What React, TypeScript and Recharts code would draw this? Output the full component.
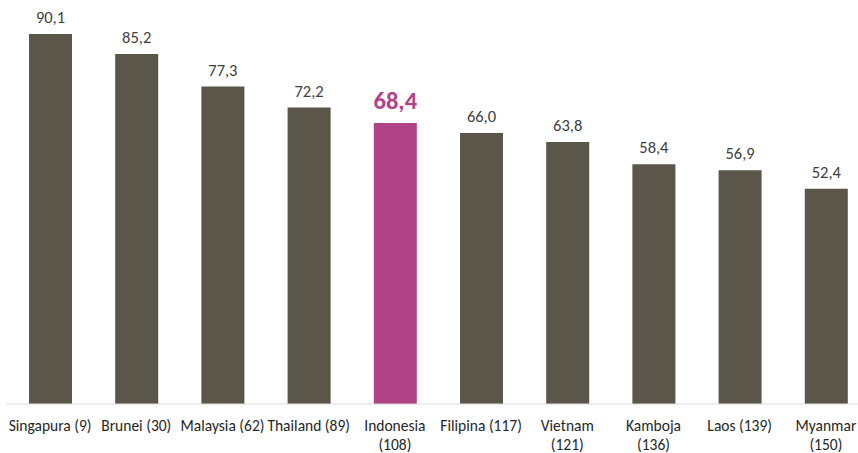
import { BarChart, Bar, XAxis, YAxis, Cell, LabelList } from 'recharts';

const CATEGORIES = [
  'Singapura (9)',
  'Brunei (30)',
  'Malaysia (62)',
  'Thailand (89)',
  'Indonesia\n(108)',
  'Filipina (117)',
  'Vietnam\n(121)',
  'Kamboja\n(136)',
  'Laos (139)',
  'Myanmar\n(150)',
];
const SCORES = [90.1, 85.2, 77.3, 72.2, 68.4, 66.0, 63.8, 58.4, 56.9, 52.4];
const HIGHLIGHT = 'Indonesia\n(108)';

const BAR = '#5a5649';
const PINK = '#b04286';
const FONT = 'Carlito, "Open Sans", Calibri, sans-serif';

const data = CATEGORIES.map((name, i) => ({ name, score: SCORES[i] }));

const fmt = (v: number) => v.toFixed(1).replace('.', ',');

function Tick(props: any) {
  const { x, y, payload } = props;
  const lines = String(payload.value).split('\n');
  return (
    <text x={x} y={y} textAnchor="middle" fill="#262626" fontSize={15.5} fontFamily={FONT}>
      {lines.map((l, i) => (
        <tspan key={i} x={x} dy={i === 0 ? 19 : 19}>
          {l}
        </tspan>
      ))}
    </text>
  );
}

function ValueLabel(props: any) {
  const { x, y, width, value, index } = props;
  const hi = CATEGORIES[index] === HIGHLIGHT;
  return (
    <text
      x={x + width / 2}
      y={hi ? y - 14 : y - 11}
      textAnchor="middle"
      fill={hi ? PINK : '#404040'}
      fontSize={hi ? 24.5 : 16.5}
      fontWeight={hi ? 700 : 400}
      fontFamily={FONT}
    >
      {fmt(value)}
    </text>
  );
}

export default function App() {
  return (
    <div style={{ position: 'absolute', left: 0, top: 0, width: 858, height: 453, overflow: 'hidden', background: '#fff' }}>
      <BarChart
        width={872}
        height={453}
        data={data}
        margin={{ top: 34, right: 3, left: 7, bottom: 0 }}
        barSize={43}
      >
        <XAxis
          dataKey="name"
          height={49}
          interval={0}
          tickLine={false}
          axisLine={{ stroke: '#d9d9d9' }}
          tick={<Tick />}
        />
        <YAxis hide domain={[0, 90.1]} />
        <Bar dataKey="score" isAnimationActive={false}>
          {data.map((d) => (
            <Cell key={d.name} fill={d.name === HIGHLIGHT ? PINK : BAR} />
          ))}
          <LabelList dataKey="score" content={<ValueLabel />} />
        </Bar>
      </BarChart>
    </div>
  );
}
